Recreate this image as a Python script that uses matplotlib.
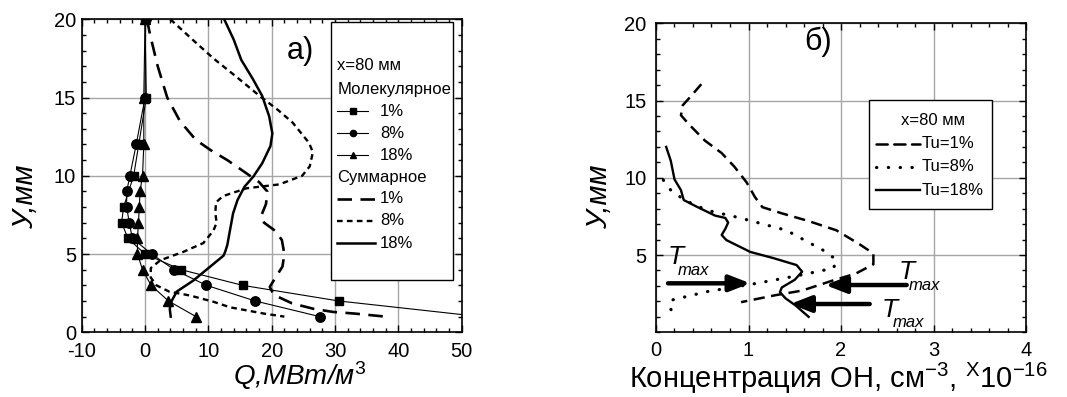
import numpy as np
import matplotlib
matplotlib.use("Agg")
import matplotlib.pyplot as plt
from matplotlib.ticker import MultipleLocator, FixedLocator
from matplotlib.patches import Rectangle

plt.rcParams['font.family'] = ['Liberation Sans', 'DejaVu Sans']
plt.rcParams['mathtext.fontset'] = 'custom'
plt.rcParams['mathtext.rm'] = 'Liberation Sans'
plt.rcParams['mathtext.it'] = 'Liberation Sans:italic'
plt.rcParams['axes.unicode_minus'] = False

# ---------------------------------------------------------------------------
# Data, panel a) : heat release Q vs y
# ---------------------------------------------------------------------------
mol1_y = [20, 15, 12, 10, 8, 7, 6, 5, 4, 3, 2, 1]
mol1_q = [0.0, 0.2, -1.0, -1.8, -3.4, -3.7, -2.7, 0.0, 5.7, 15.4, 30.6, 53.0]

mol8_y = [20, 15, 12, 10, 9, 8, 7, 6, 5, 4, 3, 2, 1]
mol8_q = [0.1, 0.0, -1.4, -2.4, -2.9, -2.9, -2.5, -2.0, 1.05, 4.6, 9.7, 17.4, 27.6]

mol18_y = [20, 15, 12, 10, 9, 8, 7, 6, 5, 4, 3, 2, 1]
mol18_q = [0.0, -0.2, -0.2, -0.4, -0.8, -0.9, -1.05, -1.2, -1.2, -0.4, 0.95, 3.7, 8.05]

sum1_q = [0.3, 0.8, 2.0, 3.5, 5.5, 8.0, 10.5, 13.0, 15.5, 18.0, 19.3, 19.1, 18.3,
          18.8, 20.5, 21.6, 22.0, 21.7, 20.6, 19.7, 20.3, 23.2, 26.6, 29.7, 33.0, 38.0]
sum1_y = [20, 19, 17, 15, 13.5, 12.3, 11.6, 11.0, 10.3, 9.6, 9.0, 8.2, 7.4,
          7.0, 6.5, 5.9, 5.0, 4.2, 3.5, 2.9, 2.4, 1.85, 1.5, 1.3, 1.2, 1.0]

sum8_q = [4.0, 7.5, 10.8, 14.5, 18.1, 21.0, 23.3, 25.9, 26.5, 26.0, 24.8, 21.2, 16.0,
          12.3, 11.2, 11.1, 11.3, 10.8, 9.2, 6.1, 2.4, 0.9, 0.9, 1.8, 3.8, 7.1,
          10.8, 13.4, 18.7, 22.0]
sum8_y = [20, 18.7, 17.5, 16.3, 15.1, 14.2, 13.4, 12.1, 11.5, 10.6, 10.0, 9.45, 9.2,
          8.7, 8.3, 7.6, 7.0, 6.5, 5.7, 5.15, 4.6, 4.1, 3.5, 3.0, 2.6, 2.35,
          1.95, 1.6, 1.2, 1.0]

sum18_q = [12.5, 14.0, 15.2, 17.0, 18.5, 19.6, 20.1, 19.8, 18.5, 17.1, 15.7, 14.6,
           13.9, 13.4, 13.0, 12.7, 12.4, 10.3, 7.6, 5.0, 4.2, 3.9, 4.05]
sum18_y = [20, 18.7, 17.4, 16.2, 15.1, 13.8, 12.7, 11.9, 10.8, 9.95, 9.3, 8.45,
           7.6, 6.5, 5.6, 5.2, 4.9, 4.2, 3.3, 2.6, 2.0, 1.5, 1.0]

# ---------------------------------------------------------------------------
# Data, panel б) : OH concentration vs y
# ---------------------------------------------------------------------------
oh1_c = [0.49, 0.38, 0.29, 0.27, 0.35, 0.53, 0.71, 0.85, 0.98, 1.07, 1.15, 1.36,
         1.65, 1.95, 2.2, 2.35, 2.35, 2.16, 1.91, 1.58, 1.29, 0.92]
oh1_y = [16.06, 15.3, 14.7, 14.05, 13.5, 12.4, 11.6, 10.7, 9.7, 8.75, 8.1, 7.7,
         7.2, 6.6, 5.7, 5.1, 4.4, 3.8, 3.35, 2.7, 2.4, 1.95]

oh8_c = [0.08, 0.16, 0.31, 0.55, 0.91, 1.41, 1.81, 1.95, 1.92, 1.56, 1.09, 0.55,
         0.18, 0.14, 0.2]
oh8_y = [9.85, 9.2, 8.55, 7.9, 7.4, 6.6, 5.3, 4.7, 4.15, 3.7, 3.17, 2.63,
         2.1, 1.75, 1.0]

oh18_c = [0.11, 0.16, 0.2, 0.27, 0.3, 0.44, 0.64, 0.75, 0.78, 0.75, 0.71, 0.76,
          1.02, 1.27, 1.52, 1.58, 1.5, 1.36, 1.34, 1.4, 1.51, 1.65]
oh18_y = [12.0, 11.1, 9.9, 9.2, 8.56, 8.13, 7.55, 7.4, 7.1, 6.7, 6.3, 5.97,
          5.2, 4.8, 4.35, 3.92, 3.4, 2.9, 2.6, 2.2, 1.73, 1.0]

# Tmax arrows: (start_c, end_c, y)
tmax_arrows = [(0.13, 1.02, 3.17), (2.71, 1.83, 3.06), (2.31, 1.45, 1.83)]
# Tmax labels: (T left c, T baseline y, max left c, max baseline y)
tmax_labels = [(0.13, 4.4, 0.24, 3.71), (2.62, 3.45, 2.73, 2.74), (2.44, 1.01, 2.56, 0.36)]

# ---------------------------------------------------------------------------
fig = plt.figure(figsize=(10.67, 3.97), dpi=100)
ax1 = fig.add_axes([0.0766, 0.163, 0.3561, 0.7884])
ax2 = fig.add_axes([0.6148, 0.163, 0.3468, 0.7783])


def style_axes(ax):
    ax.grid(True, which='major', color='#a6a6a6', lw=1.0)
    ax.set_axisbelow(True)
    ax.tick_params(which='both', direction='in', top=True, right=True,
                   labelsize=14.5, width=1.0)
    ax.tick_params(which='major', length=5)
    ax.tick_params(which='minor', length=3)
    for s in ax.spines.values():
        s.set_linewidth(1.2)


# ----- panel a)
style_axes(ax1)
ax1.tick_params(axis='x', pad=7)
ax1.tick_params(axis='y', pad=4)
ax1.set_xlim(-10, 50)
ax1.set_ylim(0, 20)
ax1.xaxis.set_major_locator(MultipleLocator(10))
ax1.xaxis.set_minor_locator(MultipleLocator(2))
ax1.yaxis.set_major_locator(MultipleLocator(5))
ax1.yaxis.set_minor_locator(MultipleLocator(1))

ax1.plot(mol1_q, mol1_y, '-', color='k', lw=0.8, marker='s', ms=6.3)
ax1.plot(mol8_q, mol8_y, '-', color='k', lw=0.8, marker='o', ms=6.8)
ax1.plot(mol18_q, mol18_y, '-', color='k', lw=0.8, marker='^', ms=7.2)
ax1.plot(sum1_q, sum1_y, color='k', lw=1.9, linestyle=(0, (5.5, 3.2)))
ax1.plot(sum8_q, sum8_y, color='k', lw=1.7, linestyle=(0, (2.4, 1.8)))
ax1.plot(sum18_q, sum18_y, color='k', lw=1.8)

ax1.text(24.5, 18.0, 'а)', fontsize=22, ha='center', va='center')

ax1.set_ylabel('У,мм', fontsize=21, style='italic', va='center')
ax1.yaxis.set_label_coords(-0.149, 0.432)
ax1.set_xlabel('Q,MBm/м$^{3}$', fontsize=20, style='italic', va='baseline')
ax1.xaxis.set_label_coords(0.573, -0.168)

# legend of panel a), drawn in axes fraction
T = ax1.transAxes
ax1.add_patch(Rectangle((0.656, 0.167), 0.321, 0.824, transform=T,
                        facecolor='white', edgecolor='k', lw=1.0, zorder=5))
leg_fs = 12
rows = [0.851, 0.777, 0.707, 0.636, 0.566, 0.496, 0.426, 0.356, 0.285]
ax1.text(0.673, rows[0], 'x=80 мм', transform=T, fontsize=leg_fs, va='center', zorder=6)
ax1.text(0.673, rows[1], 'Молекулярное', transform=T, fontsize=leg_fs, va='center', zorder=6)
ax1.text(0.673, rows[5], 'Суммарное', transform=T, fontsize=leg_fs, va='center', zorder=6)
mol_handles = [('s', '1%'), ('o', '8%'), ('^', '18%')]
for r, (m, lab) in zip(rows[2:5], mol_handles):
    ax1.plot([0.673, 0.754], [r, r], color='k', lw=0.8, transform=T, zorder=6)
    ax1.plot([0.713], [r], marker=m, color='k', ms=4.5, transform=T, zorder=6)
    ax1.text(0.785, r, lab, transform=T, fontsize=leg_fs, va='center', zorder=6)
sum_handles = [((0, (5.5, 3.2)), 1.9, '1%'), ((0, (2.4, 1.8)), 1.7, '8%'), ('-', 1.8, '18%')]
for r, (ls, lw, lab) in zip(rows[6:9], sum_handles):
    ax1.plot([0.673, 0.773], [r, r], color='k', lw=lw, linestyle=ls, transform=T, zorder=6)
    ax1.text(0.785, r, lab, transform=T, fontsize=leg_fs, va='center', zorder=6)

# ----- panel б)
style_axes(ax2)
ax2.tick_params(axis='x', pad=6)
ax2.tick_params(axis='y', pad=7)
ax2.set_xlim(0, 4)
ax2.set_ylim(0, 20)
ax2.xaxis.set_major_locator(MultipleLocator(1))
ax2.xaxis.set_minor_locator(MultipleLocator(0.2))
ax2.yaxis.set_major_locator(FixedLocator([5, 10, 15, 20]))
ax2.yaxis.set_minor_locator(MultipleLocator(1))

ls1 = (0, (4.5, 2.6))
ls8 = (0, (0.1, 3.6))
ax2.plot(oh1_c, oh1_y, color='k', lw=1.8, linestyle=ls1)
ax2.plot(oh8_c, oh8_y, color='k', lw=2.3, linestyle=ls8, dash_capstyle='round')
ax2.plot(oh18_c, oh18_y, color='k', lw=1.7)

for c0, c1, yy in tmax_arrows:
    ax2.annotate('', xy=(c1, yy), xytext=(c0, yy),
                 arrowprops=dict(arrowstyle='-|>,head_length=0.9,head_width=0.35',
                                 lw=3.2, color='k', shrinkA=0, shrinkB=0,
                                 mutation_scale=14))
for tc, ty, mc, my in tmax_labels:
    ax2.text(tc, ty, 'T', fontsize=19, style='italic', ha='left', va='baseline')
    ax2.text(mc, my, 'max', fontsize=12, style='italic', ha='left', va='baseline')

ax2.text(1.755, 18.8, 'б)', fontsize=22, ha='center', va='center')

ax2.set_ylabel('У,мм', fontsize=21, style='italic', va='center')
ax2.yaxis.set_label_coords(-0.154, 0.438)
ax2.set_xlabel('Концентрация ОН, см$^{-3}$, $^{\\mathrm{X}}$10$^{-16}$',
               fontsize=21, va='baseline')
ax2.xaxis.set_label_coords(0.494, -0.180)

T2 = ax2.transAxes
ax2.add_patch(Rectangle((0.576, 0.398), 0.333, 0.355, transform=T2,
                        facecolor='white', edgecolor='k', lw=1.0, zorder=5))
ax2.text(0.748, 0.685, 'x=80 мм', transform=T2, fontsize=leg_fs, ha='center',
         va='center', zorder=6)
oh_handles = [(ls1, 1.8, 'Tu=1%'), (ls8, 2.3, 'Tu=8%'), ('-', 1.7, 'Tu=18%')]
for r, (ls, lw, lab) in zip([0.61, 0.535, 0.46], oh_handles):
    ax2.plot([0.595, 0.713], [r, r], color='k', lw=lw, linestyle=ls,
             dash_capstyle='round', transform=T2, zorder=6)
    ax2.text(0.718, r, lab, transform=T2, fontsize=leg_fs, va='center', zorder=6)

fig.savefig('out.png', dpi=100)
